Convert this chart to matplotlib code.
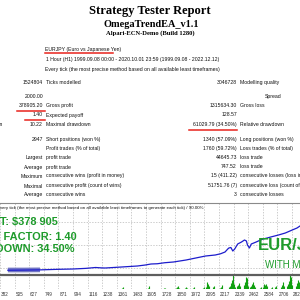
import matplotlib
matplotlib.use('Agg')
import matplotlib.pyplot as plt
from matplotlib.lines import Line2D

# --- report header ---
title = 'Strategy Tester Report'
expert = 'OmegaTrendEA_v1.1'
server = 'Alpari-ECN-Demo (Build 1280)'
symbol = 'EURJPY (Euro vs Japanese Yen)'
period = '1 Hour (H1) 1999.09.08 00:00 - 2020.10.01 23:59 (1999.09.08 - 2022.12.12)'
model = 'Every tick (the most precise method based on all available least timeframes)'

# --- report table: left value, left label, right value, right label ---
rows = [
    ('378905.20', 'Gross profit', '1315634.30', 'Gross loss'),
    ('1.40', 'Expected payoff', '128.57', ''),
    ('10.22', 'Maximal drawdown', '61029.79 (34.50%)', 'Relative drawdown'),
    ('2947', 'Short positions (won %)', '1340 (57.09%)', 'Long positions (won %)'),
    ('', 'Profit trades (% of total)', '1760 (59.72%)', 'Loss trades (% of total)'),
    ('Largest', 'profit trade', '44645.73', 'loss trade'),
    ('Average', 'profit trade', '747.52', 'loss trade'),
    ('Maximum', 'consecutive wins (profit in money)', '15 (411.22)', 'consecutive losses (loss in money)'),
    ('Maximal', 'consecutive profit (count of wins)', '51751.76 (7)', 'consecutive loss (count of losses)'),
    ('Average', 'consecutive wins', '3', 'consecutive losses'),
]
row_y = [106, 115, 124.5, 139.5, 148, 157.5, 167, 176, 186, 194.5]

# --- equity curve (trade number, equity) ---
eq_trade = [448, 560, 717, 850, 994, 1100, 1182, 1230, 1264, 1400, 1533, 1600, 1647,
            1700, 1760, 1835, 1941, 2022, 2104, 2185, 2230, 2267, 2290, 2299, 2316,
            2332, 2348, 2373, 2405, 2430, 2446, 2455, 2471, 2487, 2528, 2560, 2585,
            2620, 2650, 2715, 2772, 2830, 2870, 2895]
eq_value = [30000, 31000, 33000, 37000, 40000, 45000, 52000, 49000, 48000, 56000, 64000,
            72000, 80000, 82000, 90000, 96000, 112000, 128000, 144000, 152000, 162000,
            176000, 200000, 208000, 212000, 184000, 200000, 240000, 256000, 272000,
            264000, 232000, 208000, 240000, 256000, 270000, 280000, 288000, 296000,
            312000, 328000, 352000, 368000, 384000]
band_trade = [448, 580, 717]
band_value = [32000, 32000, 33000]

# --- lot sizes (trade number, lots) ---
lot_trade = [1402, 1410, 1623, 1631, 1753, 1761, 1859, 1867, 1875, 1883, 1932, 1940, 1948,
             1998, 2006, 2080, 2088, 2104, 2112, 2120, 2128, 2136, 2169, 2177, 2226, 2234,
             2242, 2300, 2308, 2316, 2324, 2332, 2340, 2348, 2365, 2373, 2381, 2389, 2422,
             2430, 2438, 2446, 2454, 2462, 2479, 2487, 2495, 2503, 2511, 2519, 2560, 2568,
             2585, 2593, 2601, 2609, 2617, 2650, 2658, 2683, 2691, 2740, 2748, 2756, 2764,
             2789, 2797, 2805, 2813, 2821, 2829, 2862, 2870, 2878, 2886]
lot_size = [0.1, 0.2, 0.1, 0.3, 0.1, 0.1, 0.1, 0.2, 0.3, 0.1, 0.1, 0.2, 0.1,
            0.1, 0.2, 0.1, 0.2, 0.2, 0.4, 0.7, 0.5, 0.3, 0.2, 0.3, 0.1, 0.2,
            0.4, 0.2, 0.3, 0.6, 1.0, 1.5, 0.5, 0.2, 0.3, 0.4, 0.6, 0.3, 0.2,
            0.4, 0.8, 1.3, 1.2, 0.3, 0.2, 0.3, 0.5, 0.7, 0.4, 0.2, 0.1, 0.2,
            0.2, 0.5, 0.4, 0.5, 0.3, 0.1, 0.2, 0.2, 0.3, 0.2, 0.4, 0.8, 0.3,
            0.3, 0.5, 0.9, 1.5, 1.3, 0.4, 0.3, 0.6, 1.0, 0.8]

xtick_labels = ['382', '505', '627', '749', '871', '994', '1116', '1238', '1361', '1483',
                '1605', '1728', '1850', '1972', '2095', '2217', '2339', '2462', '2584',
                '2706', '2828']
chart_note = ('Every tick (the most precise method based on all available least '
              'timeframes to generate each tick) / 90.00%')

promo_left = ['NET PROFIT: $378 905', 'PROFIT FACTOR: 1.40', 'DRAWDOWN: 34.50%']


def fy(y):
    return 1 - y / 300.0


def txt(x, y, s, **kw):
    kw.setdefault('fontsize', 3.7)
    kw.setdefault('family', 'Liberation Sans')
    kw.setdefault('color', '#111111')
    kw.setdefault('va', 'center')
    fig.text(x / 300.0, fy(y), s, **kw)


def underline(x0, x1, y):
    fig.add_artist(Line2D([x0 / 300.0, x1 / 300.0], [fy(y), fy(y)], color='#e8231c', lw=1.1))


fig = plt.figure(figsize=(3, 3), dpi=100)
fig.patch.set_facecolor('white')

# header
txt(150, 11, title, fontsize=9.0, family='Liberation Serif', weight='bold', color='black', ha='center')
txt(151, 24.5, expert, fontsize=7.4, family='Liberation Serif', weight='bold', color='black', ha='center')
txt(150, 33.5, server, fontsize=4.7, family='Liberation Serif', weight='bold', color='black', ha='center')

txt(45, 49, symbol)
underline(45, 113, 53)
txt(46, 60, period)
txt(45, 69.5, model)

txt(43, 83, '1524804', ha='right')
txt(45.5, 83, 'Ticks modelled')
txt(237, 83, '3046728', ha='right')
txt(240, 83, 'Modelling quality')
txt(43, 97, '2000.00', ha='right')
txt(265, 97, 'Spread')

for (lv, ll, rv, rl), y in zip(rows, row_y):
    txt(43, y, lv, ha='right')
    txt(45.5, y, ll)
    txt(237, y, rv, ha='right')
    txt(240, y, rl)
txt(2, 124.5, 'Absolute drawdown', ha='right')
underline(17, 45, 110.5)
underline(25, 45, 119.5)
underline(189, 237, 129.5)

# chart frame
fig.add_artist(Line2D([0, 1], [fy(203), fy(203)], color='#8a8a8a', lw=0.8))
txt(-3, 207.5, chart_note, fontsize=3.2)

ax = fig.add_axes([0, fy(274), 1, (274 - 203) / 300.0])
ax.set_xlim(448, 2895)
ax.set_ylim(0, 568000)
ax.plot(band_trade, band_value, color='#7276c4', lw=3.4, solid_capstyle='butt')
ax.plot(eq_trade, eq_value, color='#1d1dcc', lw=0.9)
ax.set_xticks([float(t) for t in xtick_labels])
ax.set_yticks([48000, 232000, 416000])
ax.grid(True, color='#b8b8b8', ls=(0, (2, 2)), lw=0.5)
ax.tick_params(length=0, labelbottom=False, labelleft=False)
for s in ax.spines.values():
    s.set_visible(False)
ax.set_facecolor('white')

fig.add_artist(Line2D([0, 1], [fy(274.5), fy(274.5)], color='#5e5e5e', lw=1.6))

vax = fig.add_axes([0, fy(289), 1, 14 / 300.0])
vax.set_xlim(448, 2895)
vax.set_ylim(0, 1.5)
vax.vlines(lot_trade, 0, lot_size, color='#10a010', lw=0.8)
vax.set_xticks([float(t) for t in xtick_labels])
vax.set_yticks([])
vax.grid(True, axis='x', color='#b8b8b8', ls=(0, (2, 2)), lw=0.5)
vax.tick_params(length=0, labelbottom=False, labelleft=False)
for s in vax.spines.values():
    s.set_visible(False)

for lab in xtick_labels:
    vax.text(float(lab) + 8, -0.55, lab, fontsize=3.3, family='Liberation Sans',
             color='#333333', ha='left', va='center', clip_on=False)

# promo overlay
for s, x, y in zip(promo_left, [58, 77, 74], [222, 236.5, 249.5]):
    txt(x, y, s, fontsize=7.9, weight='bold', color='#1e9b2b', ha='right')
txt(258, 245, 'EUR/JPY', fontsize=12, weight='bold', color='#1e9b2b')
txt(265, 265, 'WITH MM', fontsize=7, color='#1e9b2b')

fig.savefig('out.png', dpi=100)
